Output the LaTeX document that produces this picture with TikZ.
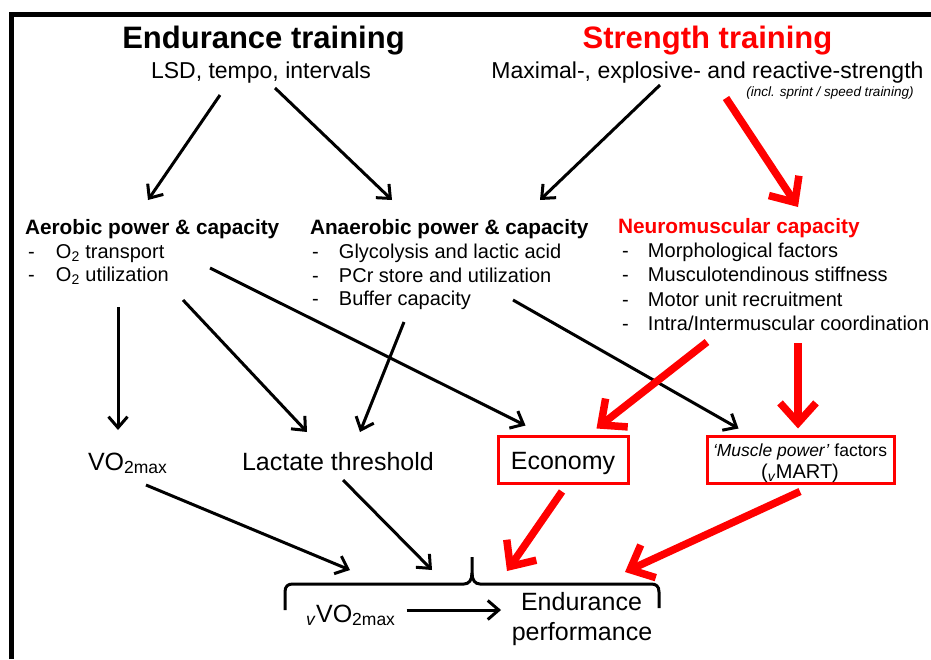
\documentclass[tikz,border=0pt]{standalone}
\usepackage{fontspec}
\setmainfont{Liberation Sans}
\usetikzlibrary{arrows.meta,calc}
\definecolor{rd}{RGB}{255,0,0}
\newcommand\fs[1]{\fontsize{#1}{#1}\selectfont}
\newcommand\dashit[2]{\makebox[#1][l]{-}#2}
\begin{document}
\begin{tikzpicture}[x=1pt,y=-1pt,
  txt/.style={inner sep=0pt, outer sep=0pt},
  blk/.style={line width=3pt, -{Straight Barb[length=11pt,width=19pt,line width=3pt]}},
  rarr/.style={draw=rd, line width=7.5pt, -{Straight Barb[length=20pt,width=36pt,line width=7.5pt]}},
  rbox/.style={draw=rd, line width=3pt, inner sep=0pt, minimum height=47pt},
  head/.style={txt, anchor=base west, font=\fs{20.8}\bfseries},
  item/.style={txt, anchor=base west, font=\fs{20}},
  big/.style={txt, font=\fs{25}},
]
\useasboundingbox (0,0) rectangle (931,659);
\fill[white] (0,0) rectangle (931,659);
\draw[line width=5pt] (11.5,659) -- (11.5,14.8) -- (931,14.8);

% top
\node[txt, anchor=base, font=\fs{31}\bfseries] (endT) at (263.5,48) {Endurance training};
\node[txt, anchor=base, font=\fs{23}] (lsd) at (261,78) {LSD, tempo, intervals};
\node[txt, anchor=base, font=\fs{31}\bfseries, text=rd] (strT) at (707.5,48) {Strength training};
\node[txt, anchor=base, font=\fs{23}] (maxs) at (707.5,78) {Maximal-, explosive- and reactive-strength};
\node[txt, anchor=base, font=\fs{13.5}\itshape] (incl) at (830,96) {(incl. sprint / speed training)};

% row 2
\node[head] (aer) at (25,234) {Aerobic power \& capacity};
\node[item] (aer1) at (28,258) {\dashit{28pt}{O\textsubscript{2} transport}};
\node[item] (aer2) at (28,281) {\dashit{28pt}{O\textsubscript{2} utilization}};
\node[head] (ana) at (310,234) {Anaerobic power \& capacity};
\node[item] (ana1) at (312,258) {\dashit{27pt}{Glycolysis and lactic acid}};
\node[item] (ana2) at (312,282) {\dashit{27pt}{PCr store and utilization}};
\node[item] (ana3) at (312,305) {\dashit{27pt}{Buffer capacity}};
\node[head, text=rd] (neu) at (618,233) {Neuromuscular capacity};
\node[item] (neu1) at (622,257) {\dashit{26pt}{Morphological factors}};
\node[item] (neu2) at (622,281) {\dashit{26pt}{Musculotendinous stiffness}};
\node[item] (neu3) at (622,306) {\dashit{26pt}{Motor unit recruitment}};
\node[item] (neu4) at (622,330) {\dashit{26pt}{Intra/Intermuscular coordination}};

% row 3
\node[big, anchor=base west] (vo) at (88,470) {VO\textsubscript{2max}};
\node[big, anchor=base west] (lac) at (242,470) {Lactate threshold};
\node[rbox, minimum width=130pt, font=\fs{25}, text height=22pt, text depth=3pt] (eco) at (563,459.5) {Economy};
\node[rbox, minimum width=187pt] (mus) at (800.5,459.5) {};
\node[txt, anchor=base, font=\fs{17.5}] (musA) at (800,456) {\textit{‘Muscle power’} factors};
\node[txt, anchor=base, font=\fs{20}] (musB) at (800,478) {(\textsubscript{\textit{v}}MART)};

% bottom
\coordinate (btip) at (472,557);
\node[big, anchor=base west] (vvo) at (306,622) {\textsubscript{\textit{v}}VO\textsubscript{2max}};
\node[big, anchor=base] (endu) at (581.5,610) {Endurance};
\node[big, anchor=base] (perf) at (582,640) {performance};

% brace
\draw[line width=3pt, line join=round]
  (285,610) -- (285,592) .. controls (285,586) and (288,584) .. (293,584)
  -- (464,584) .. controls (469,584) and (472,580) .. (472,573) -- (btip);
\draw[line width=3pt, line join=round]
  (472,573) .. controls (472,580) and (475,584) .. (480,584)
  -- (651,584) .. controls (656,584) and (659,586) .. (659,592) -- (659,608);

% black arrows
\draw[blk] ($(lsd.base)+(-41,17)$) -- ($(aer.base west)+(123,-34)$);
\draw[blk] ($(lsd.base)+(14,10)$) -- ($(ana.base west)+(82,-34)$);
\draw[blk] ($(maxs.base)+(-47.5,7)$) -- ($(ana.base west)+(230,-34)$);
\draw[blk] ($(aer2.base west)+(90,26)$) -- ($(vo.base west)+(30,-40)$);
\draw[blk] ($(aer2.base west)+(155,19)$) -- ($(lac.base west)+(65,-38)$);
\draw[blk] ($(ana3.base west)+(92,17)$) -- ($(lac.base west)+(118,-38)$);
\draw[blk] ($(aer2.base west)+(182,-13)$) -- ($(eco.north west)+(29,-9)$);
\draw[blk] ($(ana3.base west)+(201,-5)$) -- ($(mus.north west)+(33,-6)$);
\draw[blk] ($(vo.base west)+(58,15)$) -- ($(btip)+(-122,13)$);
\draw[blk] ($(lac.base west)+(101,10)$) -- ($(btip)+(-40,13)$);
\draw[blk] ($(vvo.base east)+(11,-12)$) -- ($(endu.base west)+(-20,0)$);

% red arrows
\draw[rarr] ($(incl.base)+(-104,2)$) -- ($(neu.base west)+(180,-26)$);
\draw[rarr] ($(neu4.base west)+(85,12)$) -- ($(eco.north east)+(-33,-6)$);
\draw[rarr] ($(neu4.base west)+(176,13)$) -- ($(mus.north)+(-2.5,-6)$);
\draw[rarr] ($(eco.south)+(-1,7)$) -- ($(btip)+(35,14)$);
\draw[rarr] ($(mus.south)+(-0.5,7)$) -- ($(btip)+(153,15)$);
\end{tikzpicture}
\end{document}
